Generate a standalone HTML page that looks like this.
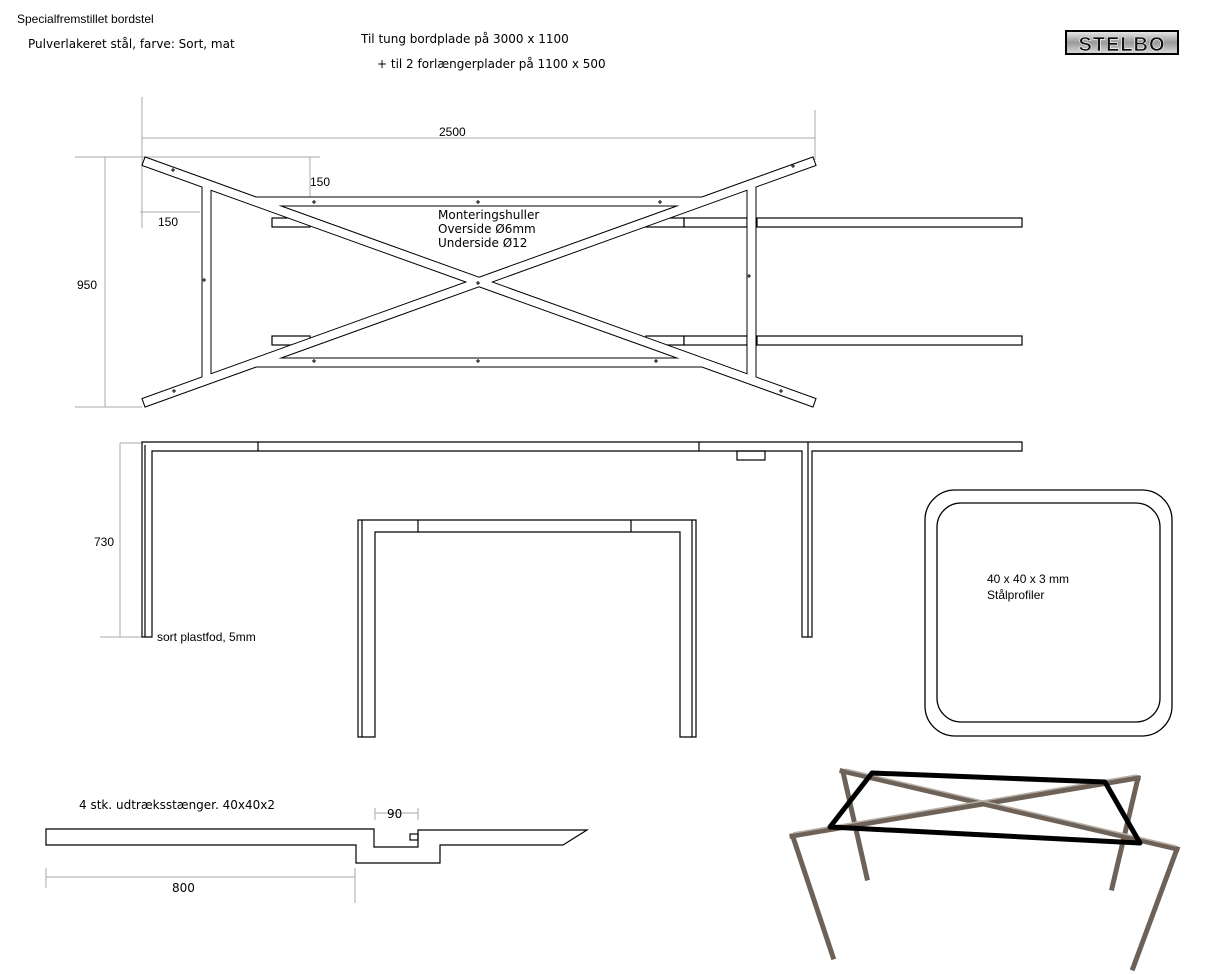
<!DOCTYPE html>
<html><head><meta charset="utf-8"><style>
html,body{margin:0;padding:0;background:#fff;}
svg{display:block;}
.a{font-family:"Liberation Sans",sans-serif;font-size:12px;fill:#000;}
.v{font-family:"DejaVu Sans",sans-serif;font-size:12px;fill:#000;}
</style></head><body>
<svg width="1220" height="974" viewBox="0 0 1220 974" xmlns="http://www.w3.org/2000/svg">
<rect width="1220" height="974" fill="#fff"/>
<text class="a" x="17" y="23">Specialfremstillet bordstel</text>
<text class="v" x="28" y="48">Pulverlakeret stål, farve: Sort, mat</text>
<text class="v" x="361" y="43">Til tung bordplade på 3000 x 1100</text>
<text class="v" x="377" y="68">+ til 2 forlængerplader på 1100 x 500</text>
<defs><linearGradient id="lg" x1="0" y1="0" x2="0" y2="1"><stop offset="0" stop-color="#eee"/><stop offset="0.5" stop-color="#999"/><stop offset="1" stop-color="#ddd"/></linearGradient></defs>
<rect x="1066" y="31" width="112" height="23" fill="url(#lg)" stroke="#000" stroke-width="2"/>
<text x="1122" y="51" text-anchor="middle" font-family="Liberation Sans,sans-serif" font-weight="bold" font-size="20" fill="#111" stroke="#fff" stroke-width="0.6" letter-spacing="1">STELBO</text>

<g stroke="#aaa" stroke-width="1" fill="none">
<line x1="142" y1="97" x2="142" y2="160"/><line x1="815" y1="110" x2="815" y2="160"/>
<line x1="142" y1="138" x2="815" y2="138"/>
<line x1="142" y1="157" x2="320" y2="157"/><line x1="310" y1="157" x2="310" y2="197"/>
<line x1="140" y1="212" x2="200" y2="212"/><line x1="142" y1="160" x2="142" y2="228"/>
<line x1="75" y1="157" x2="142" y2="157"/><line x1="75" y1="407" x2="142" y2="407"/>
<line x1="105" y1="157" x2="105" y2="407"/>
<line x1="120" y1="443" x2="142" y2="443"/><line x1="100" y1="637" x2="142" y2="637"/>
<line x1="120" y1="443" x2="120" y2="637"/>
<line x1="375" y1="813" x2="418" y2="813"/><line x1="375" y1="808" x2="375" y2="820"/><line x1="418" y1="808" x2="418" y2="820"/>
<line x1="46" y1="877" x2="355" y2="877"/><line x1="46" y1="868" x2="46" y2="888"/><line x1="355" y1="868" x2="355" y2="903"/>
</g>
<text class="a" x="439" y="136">2500</text>
<text class="a" x="310" y="186">150</text>
<text class="a" x="158" y="226">150</text>
<text class="a" x="77" y="289">950</text>
<text class="a" x="94" y="546">730</text>
<text class="v" x="387" y="818">90</text>
<text class="v" x="172" y="892">800</text>

<!-- extension bars (under frame) -->
<g fill="#fff" stroke="#000" stroke-width="1.2">
<rect x="272" y="218" width="38" height="9"/><rect x="646" y="218" width="38" height="9"/>
<rect x="684" y="218" width="63" height="9"/><rect x="757" y="218" width="265" height="9"/>
<rect x="272" y="336" width="38" height="9"/><rect x="646" y="336" width="38" height="9"/>
<rect x="684" y="336" width="63" height="9"/><rect x="757" y="336" width="265" height="9"/>
</g>

<g stroke-linecap="butt" fill="none">
<g stroke="#000" stroke-width="10">
<line x1="143" y1="161" x2="815" y2="403"/>
<line x1="143" y1="403" x2="815" y2="161"/>
<line x1="206.5" y1="184" x2="206.5" y2="380"/>
<line x1="751.5" y1="184" x2="751.5" y2="380"/>
<line x1="256" y1="201.5" x2="702" y2="201.5"/>
<line x1="256" y1="362.5" x2="702" y2="362.5"/>
</g>
<g stroke="#fff" stroke-width="8">
<line x1="144" y1="161.4" x2="814" y2="402.6"/>
<line x1="144" y1="402.6" x2="814" y2="161.4"/>
<line x1="206.5" y1="184" x2="206.5" y2="380"/>
<line x1="751.5" y1="184" x2="751.5" y2="380"/>
<line x1="256" y1="201.5" x2="702" y2="201.5"/>
<line x1="256" y1="362.5" x2="702" y2="362.5"/>
</g>
</g>
<g stroke="#000" stroke-width="1">
<path d="M171 170h4M173 168v4 M312 202h4M314 200v4 M476 202h4M478 200v4 M658 202h4M660 200v4 M791 166h4M793 164v4 M202 280h4M204 278v4 M747 276h4M749 274v4 M476 283h4M478 281v4 M312 361h4M314 359v4 M476 361h4M478 359v4 M654 361h4M656 359v4 M172 391h4M174 389v4 M779 391h4M781 389v4"/>
</g>
<text class="v" x="438" y="219">Monteringshuller</text>
<text class="v" x="438" y="233">Overside Ø6mm</text>
<text class="v" x="438" y="247">Underside Ø12</text>

<g fill="none" stroke="#000" stroke-width="1.2">
<path d="M142 637V442H1022V451H812V637H802V451H152V637Z"/>
<line x1="145" y1="445" x2="145" y2="637"/>
<line x1="808" y1="442" x2="808" y2="637"/>
<line x1="258" y1="442" x2="258" y2="451"/>
<line x1="699" y1="442" x2="699" y2="451"/>
<rect x="737" y="451" width="28" height="9"/>
</g>
<text class="a" x="157" y="641">sort plastfod, 5mm</text>

<g fill="none" stroke="#000" stroke-width="1.2">
<path d="M358 737V520H696V737H680V532H375V737Z"/>
<line x1="362" y1="520" x2="362" y2="737"/>
<line x1="692" y1="520" x2="692" y2="737"/>
<line x1="418" y1="520" x2="418" y2="532"/>
<line x1="631" y1="520" x2="631" y2="532"/>
</g>

<rect x="925" y="490" width="247" height="246" rx="30" fill="none" stroke="#000" stroke-width="1.3"/>
<rect x="937" y="503" width="223" height="219" rx="24" fill="none" stroke="#000" stroke-width="1.3"/>
<text class="a" x="987" y="583">40 x 40 x 3 mm</text>
<text class="a" x="987" y="599">Stålprofiler</text>

<text class="v" x="79" y="809">4 stk. udtræksstænger. 40x40x2</text>
<g fill="none" stroke="#000" stroke-width="1.2">
<path d="M46 829H374V847H418V830H587L563 845H440V863H356V845H46Z"/>
<rect x="410" y="834" width="8" height="6"/>
</g>

<g stroke="#6e6258" stroke-width="5" stroke-linecap="square" fill="none">
<line x1="843" y1="772" x2="867" y2="878"/>
<line x1="1138" y1="778" x2="1112" y2="888"/>
<line x1="842" y1="771" x2="1177" y2="849"/>
<line x1="792" y1="836" x2="1138" y2="778"/>
<line x1="793" y1="837" x2="833" y2="957"/>
<line x1="1177" y1="849" x2="1133" y2="968"/>
</g>
<g stroke="#b7aea6" stroke-width="1.5" fill="none">
<line x1="845" y1="769" x2="1176" y2="846"/>
<line x1="793" y1="833" x2="1137" y2="775"/>
</g>
<path d="M872 773L1105 782L1140 843L830 827Z" fill="none" stroke="#000" stroke-width="5" stroke-linejoin="round"/>
</svg>
</body></html>
